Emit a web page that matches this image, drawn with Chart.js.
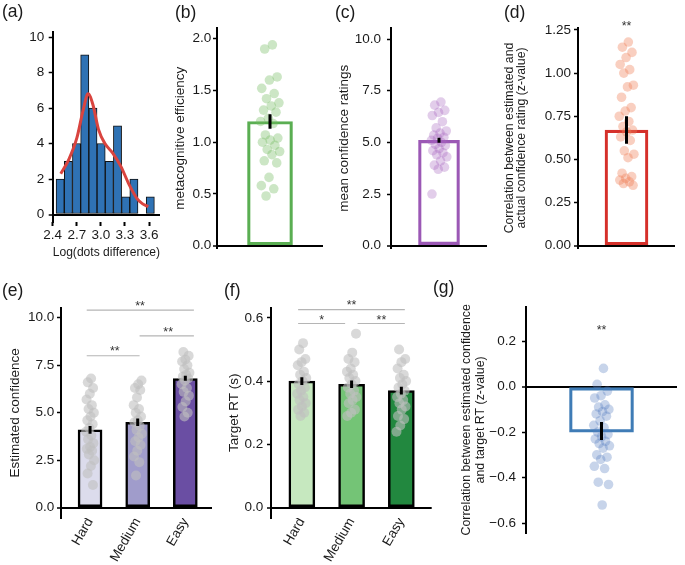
<!DOCTYPE html>
<html><head><meta charset="utf-8">
<script src="https://cdn.jsdelivr.net/npm/chart.js@4.4.1/dist/chart.umd.min.js"></script>
<style>
html,body{margin:0;padding:0;background:#fff;}
#fig{position:relative;width:685px;height:565px;overflow:hidden;background:#fff;}
#fig canvas{position:absolute;}
.pl{position:absolute;font-family:"Liberation Sans",Arial,sans-serif;font-size:17.5px;line-height:20px;color:#1a1a1a;z-index:5;}
</style></head><body>
<div id="fig">
  <canvas id="ca"></canvas><canvas id="cb"></canvas><canvas id="cc"></canvas><canvas id="cd"></canvas>
  <canvas id="ce"></canvas><canvas id="cf"></canvas><canvas id="cg"></canvas>
  <div class="pl" style="left:2px;top:1px">(a)</div>
  <div class="pl" style="left:175px;top:2px">(b)</div>
  <div class="pl" style="left:335px;top:2px">(c)</div>
  <div class="pl" style="left:504px;top:2px">(d)</div>
  <div class="pl" style="left:2px;top:280px">(e)</div>
  <div class="pl" style="left:224px;top:280px">(f)</div>
  <div class="pl" style="left:433px;top:277px">(g)</div>
</div>
<script>
// ---------------- DATA ----------------
// (a) histogram of log(dots difference)
const histBins   = [2.493, 2.595, 2.697, 2.799, 2.901, 3.003, 3.105, 3.207, 3.309, 3.411, 3.513, 3.615];
const histCounts = [2, 3, 4, 9, 6, 4, 3, 5, 1, 2, 0, 1];
const kdeX = [2.50, 2.60, 2.70, 2.78, 2.84, 2.90, 2.97, 3.05, 3.15, 3.25, 3.35, 3.45, 3.52, 3.59];
const kdeY = [2.3, 3.1, 4.3, 5.9, 6.8, 6.2, 4.8, 4.0, 3.45, 2.7, 1.7, 0.9, 0.6, 0.45];
const histXTicks = [2.4, 2.7, 3.0, 3.3, 3.6];
const histYTicks = [0, 2, 4, 6, 8, 10];

// (b) metacognitive efficiency
const effMean = 1.20;
const effErr = [1.13, 1.27];
const effPoints = [1.94, 1.90, 1.63, 1.60, 1.52, 1.47, 1.42, 1.38, 1.35, 1.31, 1.29, 1.23, 1.20, 1.18,
                   1.07, 1.04, 1.02, 1.00, 0.97, 0.93, 0.91, 0.88, 0.82, 0.80, 0.66, 0.58, 0.55, 0.48];
const effTicks = [0, 0.5, 1.0, 1.5, 2.0];

// (c) mean confidence ratings
const confMean = 5.1;
const confErr = [4.98, 5.22];
const confPoints = [6.95, 6.8, 6.55, 6.45, 6.3, 6.0, 5.7, 5.55, 5.45, 5.35, 5.25, 5.2, 5.1, 5.0,
                    4.9, 4.85, 4.7, 4.6, 4.5, 4.4, 4.3, 4.1, 3.9, 3.8, 3.7, 2.5];
const confTicks = [0, 2.5, 5.0, 7.5, 10.0];

// (d) correlation estimated vs actual confidence
const corrMean = 0.67;
const corrErr = [0.59, 0.75];
const corrPoints = [1.18, 1.15, 1.12, 1.09, 1.05, 1.02, 1.00, 0.93, 0.92, 0.86, 0.80, 0.78, 0.75, 0.72, 0.69,
                    0.67, 0.66, 0.63, 0.61, 0.55, 0.53, 0.51, 0.42, 0.40, 0.39, 0.38, 0.37, 0.36, 0.35];
const corrTicks = [0, 0.25, 0.5, 0.75, 1.0, 1.25];
const corrSig = '**';
const corrSigY = 1.288;

// (e) estimated confidence by difficulty
const difficulty = ['Hard', 'Medium', 'Easy'];
const estMeans = [4.1, 4.5, 6.8];
const estErrLo = [3.9, 4.3, 6.68];
const estErrHi = [4.3, 4.7, 6.95];
const estHard = [6.8, 6.6, 6.3, 6.0, 5.7, 5.4, 5.2, 5.0, 4.8, 4.6, 4.4, 4.2, 4.0, 3.8, 3.6, 3.4, 3.2, 3.1, 3.0, 2.8, 2.5, 2.2, 1.8, 1.2];
const estMedium = [6.7, 6.5, 6.3, 6.2, 5.8, 5.4, 5.2, 5.0, 4.8, 4.6, 4.5, 4.3, 4.1, 3.9, 3.7, 3.5, 3.3, 3.0, 2.7, 2.4, 1.7];
const estEasy = [8.2, 8.0, 7.8, 7.7, 7.5, 7.3, 7.1, 7.0, 6.9, 6.8, 6.7, 6.5, 6.3, 6.1, 5.9, 5.6, 5.3, 5.0, 4.8];
const estTicks = [0, 2.5, 5.0, 7.5, 10.0];
const estSigLines = [[-0.07, 1.04, 8.0], [1.04, 2.18, 9.05], [-0.07, 2.18, 10.4]];
const estSigText = [{x: 0.52, y: 8.39, t: '**'}, {x: 1.64, y: 9.41, t: '**'}, {x: 1.05, y: 10.76, t: '**'}];

// (f) target RT by difficulty
const rtMeans = [0.40, 0.39, 0.37];
const rtErrLo = [0.388, 0.378, 0.358];
const rtErrHi = [0.412, 0.402, 0.382];
const rtHard = [0.52, 0.50, 0.47, 0.46, 0.45, 0.43, 0.42, 0.41, 0.40, 0.39, 0.38, 0.37, 0.36, 0.35, 0.34, 0.33, 0.32, 0.31, 0.30, 0.29];
const rtMedium = [0.55, 0.49, 0.47, 0.46, 0.44, 0.43, 0.42, 0.41, 0.40, 0.39, 0.38, 0.37, 0.36, 0.35, 0.34, 0.33, 0.31, 0.30, 0.29];
const rtEasy = [0.50, 0.47, 0.46, 0.44, 0.42, 0.41, 0.40, 0.39, 0.38, 0.37, 0.36, 0.35, 0.34, 0.33, 0.32, 0.31, 0.29, 0.28, 0.26, 0.24];
const rtTicks = [0, 0.2, 0.4, 0.6];
const rtSigLines = [[-0.075, 0.87, 0.582], [1.12, 2.07, 0.582], [-0.075, 2.07, 0.626]];
const rtSigText = [{x: 0.4, y: 0.603, t: '*'}, {x: 1.6, y: 0.603, t: '**'}, {x: 1.0, y: 0.650, t: '**'}];

// (g) correlation estimated confidence vs target RT
const rtCorrMean = -0.20;
const rtCorrErr = [-0.235, -0.155];
const rtCorrPoints = [0.08, 0.01, -0.02, -0.04, -0.05, -0.08, -0.09, -0.10, -0.11, -0.12, -0.13, -0.15, -0.17, -0.18, -0.20,
                      -0.21, -0.22, -0.23, -0.24, -0.25, -0.26, -0.27, -0.30, -0.31, -0.32, -0.35, -0.36, -0.42, -0.43, -0.52];
const rtCorrTicks = [-0.6, -0.4, -0.2, 0, 0.2];
const rtCorrSig = '**';
const rtCorrSigY = 0.262;

// ---------------- STYLE / HELPERS ----------------
const FONT = '"Liberation Sans", Arial, Helvetica, sans-serif';
Chart.defaults.font.family = FONT;
Chart.defaults.font.size = 13.5;
Chart.defaults.color = '#1a1a1a';
Chart.defaults.animation = false;
Chart.defaults.events = [];
Chart.defaults.plugins.legend.display = false;
Chart.defaults.plugins.tooltip.enabled = false;

// deterministic strip-plot jitter (positional only)
const jit = i => ((((i + 1) * 0.6180339887) % 1) - 0.5) * 2;

function starsPlugin(items) {
  return {
    id: 'stars',
    afterDatasetsDraw(chart) {
      const ctx = chart.ctx, xs = chart.scales.x, ys = chart.scales.y;
      ctx.save();
      ctx.font = '12.5px ' + FONT;
      ctx.fillStyle = '#333';
      ctx.textAlign = 'center';
      ctx.textBaseline = 'alphabetic';
      items.forEach(it => ctx.fillText(it.t, xs.getPixelForValue(it.x), ys.getPixelForValue(it.y) + 7));
      ctx.restore();
    }
  };
}

function setupCanvas(id, box) {
  const cv = document.getElementById(id);
  cv.width = box.w; cv.height = box.h;
  cv.style.left = box.x + 'px'; cv.style.top = box.y + 'px';
  cv.style.width = box.w + 'px'; cv.style.height = box.h + 'px';
  return cv;
}

function geom(box, area, titleX, titleLH) {
  const padLeft = titleX == null ? 0 : titleX - box.x - titleLH / 2;
  return {
    padding: {left: padLeft, top: area.t - box.y, right: box.x + box.w - area.r, bottom: 0},
    yWidth: area.l - box.x - padLeft,
    xHeight: box.y + box.h - area.b
  };
}

function yScale(o) {
  const isZero = c => c.tick && Math.abs(c.tick.value) < 1e-9;
  return {
    type: 'linear', position: 'left', min: o.min, max: o.max, z: 1, offset: false,
    afterBuildTicks: s => { s.ticks = o.ticks.map(v => ({value: v})); },
    afterFit: s => { s.width = o.width; },
    ticks: {padding: o.pad, callback: o.fmt, color: '#1a1a1a', font: {size: 13.5}},
    grid: {
      offset: false, drawOnChartArea: true, drawTicks: true,
      color: c => isZero(c) ? '#000' : 'rgba(0,0,0,0)',
      lineWidth: c => isZero(c) ? 2 : 1,
      tickColor: '#000', tickLength: 4, tickWidth: 1.5
    },
    border: {display: true, color: '#000', width: 2},
    title: o.title ? {display: true, text: o.title, padding: 0, color: '#1a1a1a',
                      font: {size: o.tsize || 13.5, lineHeight: o.tlh || 1.2}} : {display: false}
  };
}

function xScale(o) {
  return {
    type: 'linear', position: 'bottom', min: o.min, max: o.max, offset: false,
    afterBuildTicks: s => { s.ticks = (o.ticks || []).map(v => ({value: v})); },
    afterFit: s => { s.height = o.height; },
    ticks: {display: !!o.fmt, autoSkip: false, padding: o.pad || 0, minRotation: o.rot || 0, maxRotation: o.rot || 0,
            callback: o.fmt, color: '#1a1a1a', font: {size: 13.5}},
    grid: o.tickMarks ? {display: true, offset: false, drawOnChartArea: false, drawTicks: true, tickLength: 4, tickColor: '#000', tickWidth: 2}
                      : {display: false, offset: false, drawTicks: false},
    border: {display: false},
    title: o.title ? {display: true, text: o.title, padding: 0, color: '#1a1a1a', font: {size: 13.5}} : {display: false}
  };
}

function errLine(x, lo, hi) {
  return {type: 'line', data: [{x: x, y: lo}, {x: x, y: hi}], borderColor: '#000', borderWidth: 3,
          pointRadius: 0, borderCapStyle: 'butt', fill: false, order: 1};
}

// ---------------- (a) ----------------
(function () {
  const box = {x: 0, y: 8, w: 170, h: 252};
  const area = {l: 52.7, r: 160, t: 31.7, b: 222};
  const g = geom(box, area, null, 0);
  new Chart(setupCanvas('ca', box), {
    type: 'scatter',
    data: {datasets: [
      {type: 'bar', data: histBins.map((x, i) => ({x: x, y: histCounts[i]})), backgroundColor: '#2f72b4',
       borderColor: '#111', borderWidth: 1, borderSkipped: false, barPercentage: 1, categoryPercentage: 1, order: 2},
      {type: 'line', data: kdeX.map((x, i) => ({x: x, y: kdeY[i]})), borderColor: '#d9443f', borderWidth: 3,
       pointRadius: 0, cubicInterpolationMode: 'monotone', fill: false, order: 1}
    ]},
    options: {
      responsive: false, devicePixelRatio: 1, layout: {padding: g.padding},
      scales: {
        x: xScale({min: 2.4, max: 3.736, ticks: histXTicks, fmt: v => v.toFixed(1), pad: 1, height: g.xHeight,
                   tickMarks: true, title: 'Log(dots difference)'}),
        y: yScale({min: -0.42, max: 10.3, ticks: histYTicks, fmt: v => String(v), pad: 4.5, width: g.yWidth})
      }
    }
  });
})();

// ---------------- single-bar panels ----------------
function singleBar(id, box, area, titleX, titleSize, titleLH, yo, mean, err, pts, spread, color, ptColor, barW, sig) {
  const g = geom(box, area, titleX, titleSize * titleLH);
  const ds = [
    {type: 'bar', data: [{x: 0, y: mean}], backgroundColor: 'rgba(255,255,255,0)', borderColor: color,
     borderWidth: 2.5, borderSkipped: false, barThickness: barW, order: 3},
    {type: 'scatter', data: pts.map((y, i) => ({x: jit(i) * spread, y: y})), pointRadius: 4.8,
     backgroundColor: ptColor, borderWidth: 0, order: 2},
    errLine(0, err[0], err[1])
  ];
  new Chart(setupCanvas(id, box), {
    type: 'scatter',
    data: {datasets: ds},
    plugins: sig ? [starsPlugin(sig)] : [],
    options: {
      responsive: false, devicePixelRatio: 1, layout: {padding: g.padding},
      scales: {
        x: xScale({min: -1, max: 1, height: g.xHeight}),
        y: yScale(Object.assign({width: g.yWidth, tsize: titleSize, tlh: titleLH}, yo))
      }
    }
  });
}

singleBar('cb', {x: 170, y: 5, w: 160, h: 270}, {l: 217, r: 323, t: 28.3, b: 248.3}, 180.5, 13.5, 1.2,
  {min: -0.025, max: 2.10, ticks: effTicks, fmt: v => v.toFixed(1), pad: 1.7, title: 'metacognitive efficiency'},
  effMean, effErr, effPoints, 0.19, '#5aae52', 'rgba(115,185,95,0.36)', 45, null);

singleBar('cc', {x: 330, y: 5, w: 165, h: 270}, {l: 391, r: 487, t: 28.3, b: 248.3}, 344, 13.5, 1.2,
  {min: -0.126, max: 10.52, ticks: confTicks, fmt: v => v.toFixed(1), pad: 6, title: 'mean confidence ratings'},
  confMean, confErr, confPoints, 0.17, '#9b58b5', 'rgba(165,100,190,0.32)', 41, null);

singleBar('cd', {x: 495, y: 5, w: 190, h: 270}, {l: 578, r: 675, t: 27.7, b: 248.3}, 509.5, 12.3, 1.0,
  {min: -0.015, max: 1.263, ticks: corrTicks, fmt: v => v.toFixed(2), pad: 3,
   title: ['Correlation between estimated and', 'actual confidence rating (z-value)']},
  corrMean, corrErr, corrPoints, 0.16, '#d5302a', 'rgba(238,130,90,0.38)', 43, [{x: 0, y: corrSigY, t: corrSig}]);

singleBar('cg', {x: 440, y: 280, w: 245, h: 285}, {l: 526, r: 677, t: 306.7, b: 533}, 467, 12.4, 1.1,
  {min: -0.643, max: 0.351, ticks: rtCorrTicks, fmt: v => (v < -1e-9 ? '\u2212' : '') + Math.abs(v).toFixed(1), pad: 6,
   title: ['Correlation between estimated confidence', 'and target RT (z-value)']},
  rtCorrMean, rtCorrErr, rtCorrPoints, 0.11, '#3f7cb6', 'rgba(85,125,190,0.33)', 64, [{x: 0, y: rtCorrSigY, t: rtCorrSig}]);

// ---------------- three-bar panels ----------------
function threeBar(id, box, area, titleX, yo, xo, means, lo, hi, groups, spread, colors, barW, sigLines, sigText) {
  const g = geom(box, area, titleX, 13.5 * 1.2);
  const ds = [
    {type: 'bar', data: means.map((m, i) => ({x: i, y: m})), backgroundColor: colors, borderColor: '#000',
     borderWidth: 2.5, borderSkipped: false, barThickness: barW, order: 3}
  ];
  groups.forEach((pts, c) => ds.push({type: 'scatter', data: pts.map((y, i) => ({x: c + jit(i + c * 7) * spread, y: y})),
    pointRadius: 5, backgroundColor: 'rgba(192,192,192,0.6)', borderWidth: 0, order: 2}));
  means.forEach((m, i) => ds.push(errLine(i, lo[i], hi[i])));
  sigLines.forEach(s => ds.push({type: 'line', data: [{x: s[0], y: s[2]}, {x: s[1], y: s[2]}], borderColor: '#b5b5b5',
    borderWidth: 1.2, pointRadius: 0, fill: false, order: 1}));
  new Chart(setupCanvas(id, box), {
    type: 'scatter',
    data: {datasets: ds},
    plugins: [starsPlugin(sigText)],
    options: {
      responsive: false, devicePixelRatio: 1, layout: {padding: g.padding},
      scales: {
        x: xScale(Object.assign({ticks: [0, 1, 2], fmt: v => difficulty[v], rot: 60, pad: -3, height: g.xHeight}, xo)),
        y: yScale(Object.assign({width: g.yWidth}, yo))
      }
    }
  });
}

threeBar('ce', {x: 0, y: 280, w: 225, h: 285}, {l: 61, r: 212, t: 307.7, b: 518}, 15.5,
  {min: -0.54, max: 10.53, ticks: estTicks, fmt: v => v.toFixed(1), pad: 2.7, title: 'Estimated confidence'},
  {min: -0.61, max: 2.56},
  estMeans, estErrLo, estErrHi, [estHard, estMedium, estEasy], 0.09,
  ['#dcdcec', '#a09ccb', '#6a4ea3'], 24, estSigLines, estSigText);

threeBar('cf', {x: 222, y: 280, w: 215, h: 285}, {l: 271, r: 431.7, t: 307.7, b: 518}, 234.5,
  {min: -0.0325, max: 0.632, ticks: rtTicks, fmt: v => v.toFixed(1), pad: 3.7, title: 'Target RT (s)'},
  {min: -0.62, max: 2.61},
  rtMeans, rtErrLo, rtErrHi, [rtHard, rtMedium, rtEasy], 0.1,
  ['#c6e8bf', '#74c476', '#22883f'], 26, rtSigLines, rtSigText);
</script>
</body></html>
